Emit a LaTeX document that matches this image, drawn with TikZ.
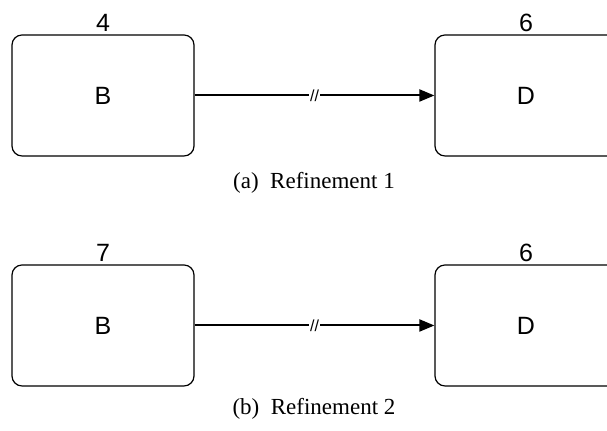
\documentclass[tikz,border=0pt]{standalone}
\usepackage{fontspec}
\setmainfont{Liberation Serif}
\setsansfont{Liberation Sans}
\usetikzlibrary{arrows.meta}

\tikzset{
    block/.style={draw, line width=0.6pt, rounded corners=5pt, minimum width=91pt, minimum height=60.5pt, font=\sffamily\fontsize{12.5}{14}\selectfont},
    weight/.style={above, inner sep=1.2pt, font=\sffamily\fontsize{12.5}{14}\selectfont},
    link/.style={line width=1pt, -{Triangle[length=7.5pt,width=6pt]}},
    cut/.style={fill=white, inner sep=0.6pt, font=\sffamily\fontsize{8}{9}\selectfont},
    caption/.style={font=\fontsize{11.5}{13}\selectfont}
}

\begin{document}
\begin{tikzpicture}[x=0.5pt, y=0.5pt]
    \useasboundingbox (0,0) rectangle (607,431);
    \clip (0,0) rectangle (607,431);

    % Refinement 1
    \node[block] (b1) at (103,335.5) {B};
    \node[block] (d1) at (526,335.5) {D};
    \node[weight] (w1) at (b1.north) {4};
    \node[weight] (v1) at (d1.north) {6};
    \draw[link] (b1) -- node[cut] {//} (d1);
    \node[caption] (cap1) at (314,248) {(a)\ \ Refinement 1};

    % Refinement 2
    \node[block] (b2) at (103,105.5) {B};
    \node[block] (d2) at (526,105.5) {D};
    \node[weight] (w2) at (b2.north) {7};
    \node[weight] (v2) at (d2.north) {6};
    \draw[link] (b2) -- node[cut] {//} (d2);
    \node[caption] (cap2) at (314,22) {(b)\ \ Refinement 2};

\end{tikzpicture}
\end{document}
